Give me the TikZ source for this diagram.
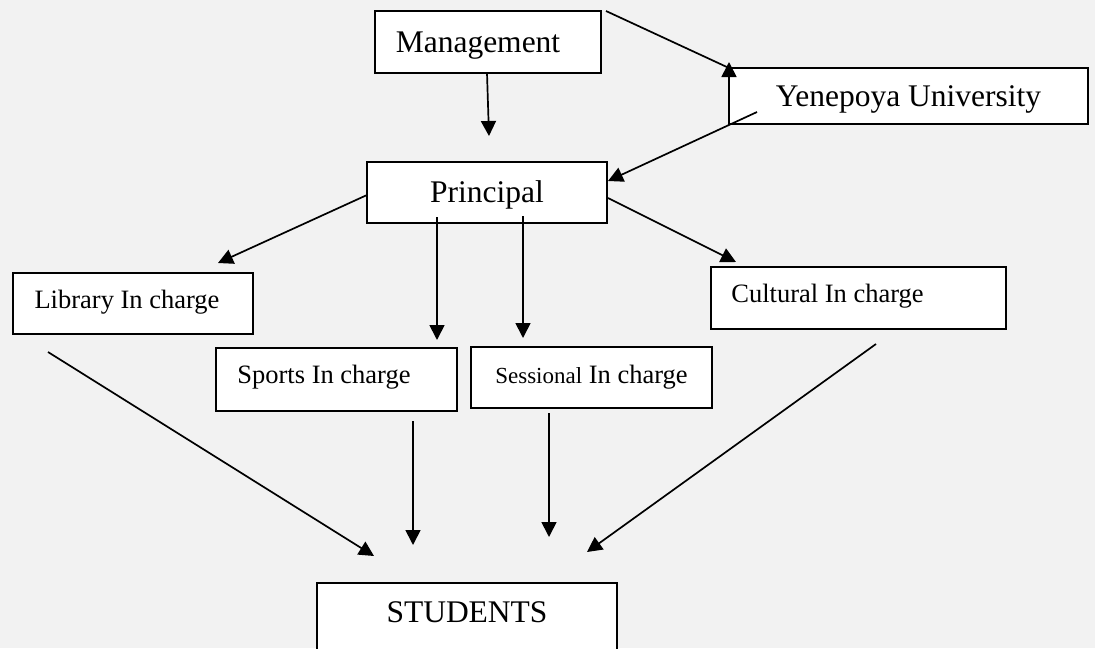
\documentclass[tikz,border=0pt]{standalone}
\usepackage{fontspec}
\setmainfont{Liberation Serif}
\usetikzlibrary{arrows.meta}
\definecolor{bgc}{HTML}{F2F2F2}
\tikzset{
  box/.style={draw=black, fill=white, line width=2pt, inner sep=0pt, outer sep=0pt, anchor=center, text depth=0pt},
  bigtxt/.style={font=\fontsize{31.5}{36}\selectfont, text height=20.8pt},
  smalltxt/.style={font=\fontsize{26.5}{30}\selectfont, text height=17.5pt},
  arr/.style={line width=1.7pt, -{Triangle[length=15pt,width=15pt]}},
  ln/.style={line width=1.7pt}
}
\begin{document}
\begin{tikzpicture}[x=1pt,y=-1pt]
\fill[bgc] (0,0) rectangle (1095,648);
\useasboundingbox (0,0) rectangle (1095,648);
\clip (0,0) rectangle (1095,648);

\node[box,bigtxt,minimum width=226pt,minimum height=62pt] (mgmt) at (488,42) {Management\hspace*{20pt}};
\node[box,bigtxt,minimum width=359pt,minimum height=56pt] (yen) at (908.5,96) {Yenepoya University};
\node[box,bigtxt,minimum width=240pt,minimum height=61pt] (prin) at (487,192.5) {Principal};
\node[box,smalltxt,minimum width=240pt,minimum height=61pt] (lib) at (133,303.5) {\raisebox{3.5pt}{Library In charge}\hspace*{12pt}};
\node[box,smalltxt,minimum width=295pt,minimum height=62pt] (cult) at (858.5,298) {\raisebox{4pt}{Cultural In charge}\hspace*{62pt}};
\node[box,smalltxt,minimum width=241pt,minimum height=63pt] (sports) at (336.5,379.5) {\raisebox{4.5pt}{Sports In charge}\hspace*{25pt}};
\node[box,smalltxt,minimum width=241pt,minimum height=61pt] (sess) at (591.5,377.5) {\raisebox{3pt}{{\fontsize{23}{28}\selectfont Sessional} In charge}};
\node[box,bigtxt,minimum width=300pt,minimum height=78pt] (stud) at (467,622) {\raisebox{9.5pt}{STUDENTS}};

% Management connectors
\draw[arr] ([xshift=-1pt]mgmt.south) -- ([xshift=1pt,yshift=-63pt]mgmt.south);
\draw[ln] ([xshift=5pt]mgmt.north east) -- (yen.north west);
\draw[arr] (yen.south west) -- ([yshift=6pt]yen.north west);
% Yenepoya to Principal
\draw[arr] ([xshift=28pt,yshift=12pt]yen.south west) -- ([xshift=1pt,yshift=11.5pt]prin.east);
% Principal to in-charges
\draw[arr] ([yshift=-2.5pt]prin.west) -- ([xshift=85pt,yshift=10pt]lib.north);
\draw[arr] ([xshift=-50pt,yshift=6pt]prin.south) -- ([xshift=100.5pt,yshift=8pt]sports.north);
\draw[arr] ([xshift=36pt,yshift=7pt]prin.south) -- ([xshift=-68.5pt,yshift=9pt]sess.north);
\draw[arr] ([xshift=1pt,yshift=-5.5pt]prin.east) -- ([xshift=25pt,yshift=5pt]cult.north west);
% In-charges to students
\draw[arr] ([xshift=35pt,yshift=-18pt]lib.south west) -- ([xshift=57pt,yshift=27pt]stud.north west);
\draw[arr] ([xshift=76.5pt,yshift=-10pt]sports.south) -- ([xshift=-54pt,yshift=38pt]stud.north);
\draw[arr] ([xshift=-42.5pt,yshift=-5pt]sess.south) -- ([xshift=82pt,yshift=46pt]stud.north);
\draw[arr] ([xshift=17.5pt,yshift=-15pt]cult.south) -- ([xshift=-30pt,yshift=31pt]stud.north east);
\end{tikzpicture}
\end{document}
